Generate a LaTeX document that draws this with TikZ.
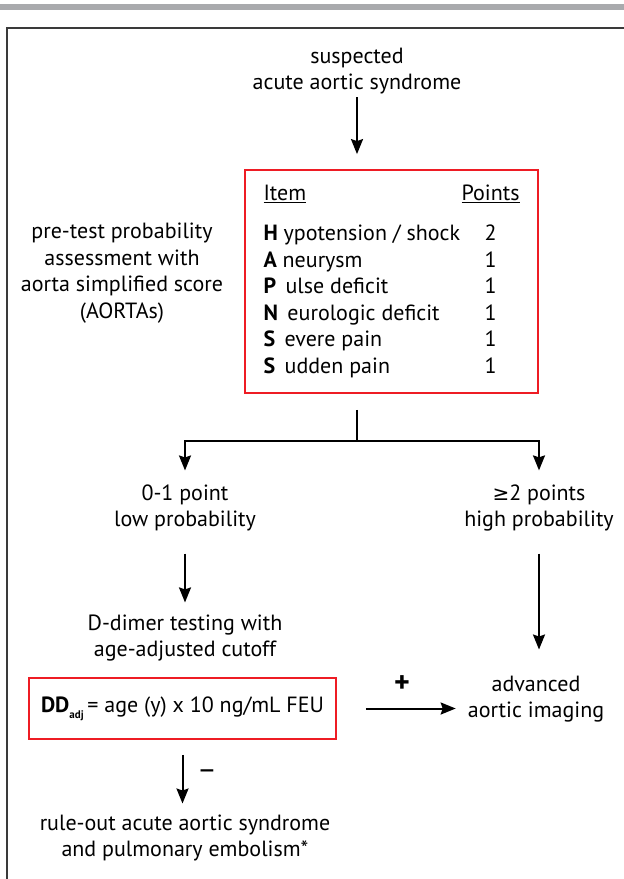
\documentclass[tikz,border=0pt]{standalone}
\usepackage{fontspec}
\setmainfont{PT Sans}
\newfontfamily\geqfont{DejaVu Sans}
\usetikzlibrary{arrows.meta,calc,positioning}
\definecolor{barGray}{HTML}{A9AAAD}
\definecolor{frameGray}{HTML}{3A3A3A}
\definecolor{boxRed}{HTML}{EE1C24}
\newcommand{\flowfont}{\fontsize{22}{26.5}\selectfont}

\begin{document}
\begin{tikzpicture}[x=1pt,y=-1pt,>={Stealth[length=15pt,width=12pt,inset=2pt]},
  txt/.style={align=center,inner sep=0pt,font=\flowfont},
  redbox/.style={draw=boxRed,line width=1.8pt,inner sep=0pt,font=\flowfont},
  arr/.style={->,line width=2pt},
  lin/.style={line width=2pt}]
\useasboundingbox (0,0) rectangle (624,879);
% header bar and open frame
\fill[barGray] (0,4) rectangle (624,10);
\draw[frameGray,line width=1.5pt] (7,879) -- (7,28) -- (624,28);
% top of the flow
\node[txt] (start) at (357,71) {suspected\\acute aortic syndrome};
\node[txt] (pretest) at (122,273) {pre-test probability\\assessment with\\aorta simplified score\\(AORTAs)};
\node[redbox,minimum width=293pt,minimum height=223pt] (score) at (391.5,281.5) {%
  \begin{tabular*}{256pt}{@{}l@{\extracolsep{\fill}}c@{}}
  \underline{Item} & \underline{Points}\\[14pt]
  \textbf{H} ypotension / shock & 2\\
  \textbf{A} neurysm & 1\\
  \textbf{P}\, ulse deficit & 1\\
  \textbf{N}\, eurologic deficit & 1\\
  \textbf{S}\, evere pain & 1\\
  \textbf{S}\, udden pain & 1
  \end{tabular*}};
\draw[arr,shorten <=3pt,shorten >=15pt] (start.south) -- (start.south |- score.north);
% branching
\coordinate (split) at (357,441);
\node[txt] (low) at (185,508) {0-1 point\\low probability};
\node[txt] (high) at (539,508) {{\geqfont\fontsize{20}{26.5}\selectfont ≥}2 points\\high probability};
\draw[lin] (split |- score.south) ++(0,16) -- (split);
\draw[arr,shorten >=14pt] (split) -| (low.north);
\draw[arr,shorten >=14pt] (split) -| (high.north);
% low probability path
\node[txt] (ddimer) at (185,638) {D-dimer testing with\\age-adjusted cutoff};
\draw[arr,shorten <=22pt,shorten >=12pt] (low.south) -- (ddimer.north);
\node[redbox,minimum width=307pt,minimum height=61pt] (ddadj) at (182.5,708.5)
  {\textbf{DD}\raisebox{-6pt}{\fontsize{11}{12}\selectfont\bfseries adj}\,= age (y) x 10 ng/mL FEU};
\node[txt] (ruleout) at (185,838) {rule-out acute aortic syndrome\\and pulmonary embolism*};
\draw[arr,shorten <=15pt,shorten >=11pt] (ddadj.south) -- (ddadj.south |- ruleout.north);
\node[txt,font=\fontsize{30}{30}\selectfont] (minus) at (207,775) {–};
% high probability path
\node[txt] (imaging) at (536,699) {advanced\\aortic imaging};
\draw[arr,shorten <=22pt,shorten >=26pt] (high.south) -- (high.south |- imaging.north);
\draw[arr,shorten <=29pt,shorten >=12pt] (ddadj.east) -- (ddadj.east -| imaging.west);
\node[txt,font=\fontsize{30}{30}\selectfont\bfseries] (plus) at (402,684) {+};
\end{tikzpicture}
\end{document}
